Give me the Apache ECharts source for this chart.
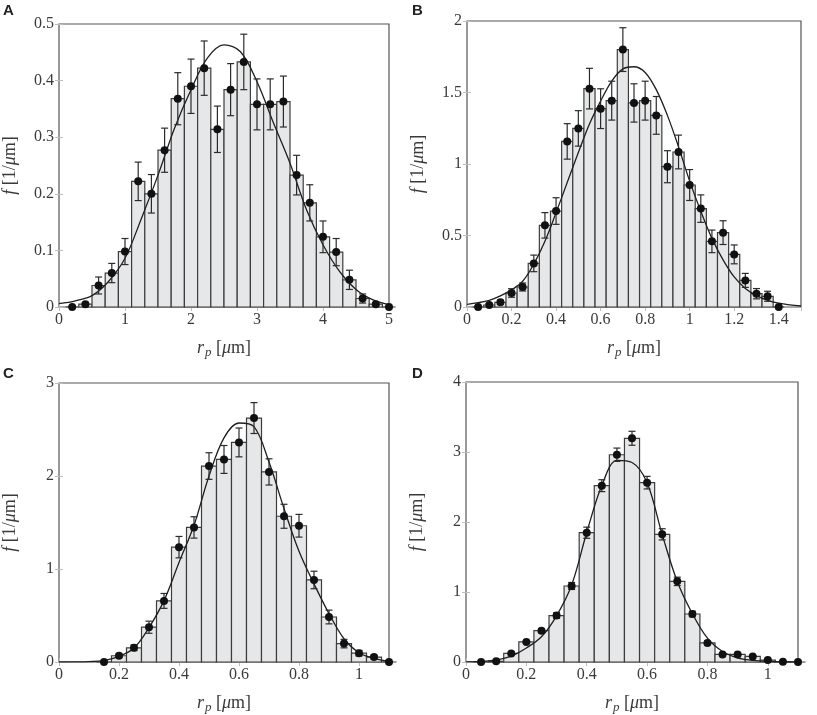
<!DOCTYPE html>
<html>
<head>
<meta charset="utf-8">
<script src="https://cdn.jsdelivr.net/npm/echarts@6/dist/echarts.min.js"></script>
<style>
html, body { margin: 0; padding: 0; background: #fff; }
#main { width: 817px; height: 715px; }
</style>
</head>
<body>
<div id="main"></div>
<script>
// panel A : bins of 0.2 um
var binA = 0.2;
var xA = [0.2, 0.4, 0.6, 0.8, 1.0, 1.2, 1.4, 1.6, 1.8, 2.0, 2.2, 2.4, 2.6, 2.8, 3.0, 3.2, 3.4, 3.6, 3.8, 4.0, 4.2, 4.4, 4.6, 4.8, 5.0];
var fA = [0, 0.005, 0.038, 0.06, 0.098, 0.222, 0.2, 0.277, 0.368, 0.39, 0.422, 0.314, 0.384, 0.433, 0.358, 0.358, 0.363, 0.233, 0.184, 0.124, 0.097, 0.048, 0.015, 0.005, 0];
var eA = [0, 0.003, 0.015, 0.017, 0.023, 0.034, 0.034, 0.039, 0.046, 0.048, 0.048, 0.041, 0.046, 0.049, 0.045, 0.045, 0.045, 0.035, 0.032, 0.028, 0.024, 0.017, 0.008, 0.003, 0];
var fitXA = [0, 0.25, 0.5, 0.75, 1, 1.25, 1.5, 1.75, 2, 2.25, 2.5, 2.75, 3, 3.25, 3.5, 3.75, 4, 4.25, 4.5, 4.75, 5];
var fitYA = [0.006, 0.011, 0.02, 0.045, 0.086, 0.157, 0.233, 0.316, 0.384, 0.44, 0.463, 0.451, 0.398, 0.325, 0.254, 0.172, 0.11, 0.063, 0.031, 0.013, 0.004];

// panel B : bins of 0.05 um
var binB = 0.05;
var xB = [0.05, 0.1, 0.15, 0.2, 0.25, 0.3, 0.35, 0.4, 0.45, 0.5, 0.55, 0.6, 0.65, 0.7, 0.75, 0.8, 0.85, 0.9, 0.95, 1.0, 1.05, 1.1, 1.15, 1.2, 1.25, 1.3, 1.35, 1.4];
var fB = [0, 0.014, 0.033, 0.098, 0.14, 0.305, 0.571, 0.671, 1.158, 1.249, 1.527, 1.387, 1.443, 1.8, 1.427, 1.443, 1.34, 0.981, 1.084, 0.853, 0.688, 0.459, 0.52, 0.368, 0.186, 0.093, 0.075, 0];
var eB = [0, 0.01, 0.015, 0.03, 0.028, 0.058, 0.089, 0.093, 0.124, 0.124, 0.142, 0.139, 0.136, 0.153, 0.134, 0.136, 0.132, 0.112, 0.118, 0.108, 0.096, 0.079, 0.083, 0.066, 0.049, 0.036, 0.035, 0];
var fitXB = [0, 0.05, 0.1, 0.15, 0.2, 0.25, 0.3, 0.35, 0.4, 0.45, 0.5, 0.55, 0.6, 0.65, 0.7, 0.75, 0.8, 0.85, 0.9, 0.95, 1, 1.05, 1.1, 1.15, 1.2, 1.25, 1.3, 1.35, 1.4, 1.45, 1.5];
var fitYB = [0.019, 0.03, 0.047, 0.078, 0.12, 0.18, 0.3, 0.46, 0.66, 0.87, 1.08, 1.28, 1.44, 1.58, 1.665, 1.68, 1.64, 1.52, 1.34, 1.12, 0.88, 0.67, 0.48, 0.33, 0.21, 0.13, 0.08, 0.047, 0.027, 0.015, 0.007];

// panel C
var binC = 0.05;
var xC = [0.15, 0.2, 0.25, 0.3, 0.35, 0.4, 0.45, 0.5, 0.55, 0.6, 0.65, 0.7, 0.75, 0.8, 0.85, 0.9, 0.95, 1.0, 1.05, 1.1];
var fC = [0, 0.067, 0.152, 0.374, 0.657, 1.235, 1.447, 2.107, 2.178, 2.361, 2.623, 2.044, 1.567, 1.465, 0.882, 0.484, 0.198, 0.095, 0.053, 0];
var eC = [0, 0.02, 0.03, 0.065, 0.08, 0.115, 0.115, 0.143, 0.15, 0.155, 0.166, 0.141, 0.129, 0.122, 0.094, 0.074, 0.046, 0.03, 0.02, 0];
var fitXC = [0, 0.05, 0.1, 0.15, 0.2, 0.25, 0.3, 0.35, 0.4, 0.45, 0.5, 0.55, 0.6, 0.65, 0.7, 0.75, 0.8, 0.85, 0.9, 0.95, 1, 1.05, 1.1];
var fitYC = [0, 0.001, 0.004, 0.015, 0.06, 0.15, 0.37, 0.66, 1.07, 1.47, 2.0, 2.41, 2.57, 2.53, 2.15, 1.65, 1.19, 0.84, 0.52, 0.25, 0.1, 0.04, 0.006];

// panel D
var binD = 0.05;
var xD = [0.05, 0.1, 0.15, 0.2, 0.25, 0.3, 0.35, 0.4, 0.45, 0.5, 0.55, 0.6, 0.65, 0.7, 0.75, 0.8, 0.85, 0.9, 0.95, 1.0, 1.05, 1.1];
var fD = [0, 0.01, 0.122, 0.287, 0.447, 0.663, 1.086, 1.847, 2.519, 2.961, 3.196, 2.562, 1.824, 1.152, 0.686, 0.273, 0.108, 0.108, 0.08, 0.028, 0.005, 0];
var eD = [0, 0.005, 0.015, 0.02, 0.025, 0.04, 0.05, 0.08, 0.085, 0.095, 0.1, 0.09, 0.08, 0.06, 0.04, 0.025, 0.015, 0.015, 0.012, 0.008, 0.004, 0];
var fitXD = [0, 0.05, 0.1, 0.15, 0.2, 0.25, 0.3, 0.35, 0.4, 0.45, 0.5, 0.55, 0.6, 0.65, 0.7, 0.75, 0.8, 0.85, 0.9, 0.95, 1, 1.05, 1.1];
var fitYD = [0.002, 0.008, 0.03, 0.085, 0.2, 0.36, 0.66, 1.1, 1.85, 2.52, 2.88, 2.85, 2.56, 1.82, 1.15, 0.69, 0.34, 0.15, 0.06, 0.024, 0.008, 0.002, 0];

var serif = '"Liberation Serif", "DejaVu Serif", serif';
var textCol = '#3a3a3a';

var panels = [
    { letter: 'A', lx: 3, ly: 3, grid: { left: 58, top: 24, width: 331, height: 283 },
      xMax: 5, xInt: 1, yMax: 0.5, yInt: 0.1, showMax: true,
      bin: binA, x: xA, f: fA, e: eA, fx: fitXA, fy: fitYA },
    { letter: 'B', lx: 412, ly: 3, grid: { left: 467, top: 21, width: 334, height: 286 },
      xMax: 1.5, xInt: 0.2, yMax: 2, yInt: 0.5, showMax: false,
      bin: binB, x: xB, f: fB, e: eB, fx: fitXB, fy: fitYB },
    { letter: 'C', lx: 3, ly: 366, grid: { left: 58, top: 383, width: 331, height: 283 },
      xMax: 1.1, xInt: 0.2, yMax: 3, yInt: 1, showMax: false,
      bin: binC, x: xC, f: fC, e: eC, fx: fitXC, fy: fitYC },
    { letter: 'D', lx: 412, ly: 366, grid: { left: 466, top: 382, width: 332, height: 284 },
      xMax: 1.1, xInt: 0.2, yMax: 4, yInt: 1, showMax: false,
      bin: binD, x: xD, f: fD, e: eD, fx: fitXD, fy: fitYD }
];

function zip(a, b) {
    return a.map(function (v, i) { return [v, b[i]]; });
}
function zip3(a, b, c) {
    return a.map(function (v, i) { return [v, b[i], c[i]]; });
}

function barItem(w) {
    return function (params, api) {
        var x = api.value(0), y = api.value(1);
        var p0 = api.coord([x - w / 2, y]);
        var p1 = api.coord([x + w / 2, 0]);
        return {
            type: 'rect',
            shape: { x: p0[0], y: p0[1], width: p1[0] - p0[0], height: p1[1] - p0[1] },
            style: { fill: '#e6e7e8', stroke: '#3d3d3d', lineWidth: 1.2 }
        };
    };
}

function errItem(params, api) {
    var x = api.value(0), y = api.value(1), e = api.value(2);
    if (!e) return null;
    var hi = api.coord([x, y + e]);
    var lo = api.coord([x, y - e]);
    var c = 3.5;
    var st = { stroke: '#2b2b2b', lineWidth: 1.2 };
    return {
        type: 'group',
        children: [
            { type: 'line', shape: { x1: hi[0], y1: hi[1], x2: lo[0], y2: lo[1] }, style: st },
            { type: 'line', shape: { x1: hi[0] - c, y1: hi[1], x2: hi[0] + c, y2: hi[1] }, style: st },
            { type: 'line', shape: { x1: lo[0] - c, y1: lo[1], x2: lo[0] + c, y2: lo[1] }, style: st }
        ]
    };
}

var tick = { inside: true, length: 4, lineStyle: { color: '#bdbdbd', width: 1 } };
var rich = {
    i: { fontFamily: serif, fontStyle: 'italic', fontSize: 18, color: textCol },
    n: { fontFamily: serif, fontSize: 18, color: textCol },
    s: { fontFamily: serif, fontStyle: 'italic', fontSize: 13, color: textCol, padding: [9, 0, 0, 1] }
};

var grids = [], xAxes = [], yAxes = [], series = [], graphics = [];

panels.forEach(function (p, i) {
    grids.push(Object.assign({ show: true, borderColor: '#555', borderWidth: 1.2, backgroundColor: '#fff' }, p.grid));

    xAxes.push({
        gridIndex: i, type: 'value', position: 'bottom', min: 0, max: p.xMax, interval: p.xInt,
        axisLine: { show: false }, axisTick: tick, splitLine: { show: false },
        axisLabel: { margin: 5, fontFamily: serif, fontSize: 16, color: textCol, showMaxLabel: p.showMax },
        name: '{i|r}{s|p}{n| [}{i|μ}{n|m]}', nameLocation: 'middle', nameGap: 30,
        nameTextStyle: { rich: rich }
    });
    xAxes.push({
        gridIndex: i, type: 'value', position: 'top', min: 0, max: p.xMax, interval: p.xInt,
        axisLine: { show: false }, axisTick: tick, splitLine: { show: false }, axisLabel: { show: false }
    });
    yAxes.push({
        gridIndex: i, type: 'value', position: 'left', min: 0, max: p.yMax, interval: p.yInt,
        axisLine: { show: false }, axisTick: tick, splitLine: { show: false },
        axisLabel: { margin: 5, fontFamily: serif, fontSize: 16, color: textCol },
        name: '{i|f}{n| [1/}{i|μ}{n|m]}', nameLocation: 'middle', nameRotate: 90, nameGap: 40,
        nameTextStyle: { rich: rich }
    });
    yAxes.push({
        gridIndex: i, type: 'value', position: 'right', min: 0, max: p.yMax, interval: p.yInt,
        axisLine: { show: false }, axisTick: tick, splitLine: { show: false }, axisLabel: { show: false }
    });

    var xi = 2 * i, yi = 2 * i;
    series.push({
        type: 'custom', xAxisIndex: xi, yAxisIndex: yi, z: 1, silent: true,
        renderItem: barItem(p.bin), encode: { x: 0, y: 1 }, data: zip(p.x, p.f)
    });
    series.push({
        type: 'line', xAxisIndex: xi, yAxisIndex: yi, z: 2, silent: true,
        smooth: 0.35, showSymbol: false, lineStyle: { color: '#1f1f1f', width: 1.3 },
        data: zip(p.fx, p.fy)
    });
    series.push({
        type: 'custom', xAxisIndex: xi, yAxisIndex: yi, z: 3, silent: true,
        renderItem: errItem, encode: { x: 0, y: 1 }, data: zip3(p.x, p.f, p.e)
    });
    series.push({
        type: 'scatter', xAxisIndex: xi, yAxisIndex: yi, z: 4, silent: true, clip: false,
        symbolSize: 8, itemStyle: { color: '#111', opacity: 1 }, data: zip(p.x, p.f)
    });

    graphics.push({
        type: 'text', left: p.lx, top: p.ly,
        style: { text: p.letter, font: 'bold 15px "Liberation Sans", Arial, sans-serif', fill: '#222' }
    });
});

var chart = echarts.init(document.getElementById('main'));
chart.setOption({
    animation: false,
    backgroundColor: '#fff',
    grid: grids,
    xAxis: xAxes,
    yAxis: yAxes,
    series: series,
    graphic: graphics
});
</script>
</body>
</html>
